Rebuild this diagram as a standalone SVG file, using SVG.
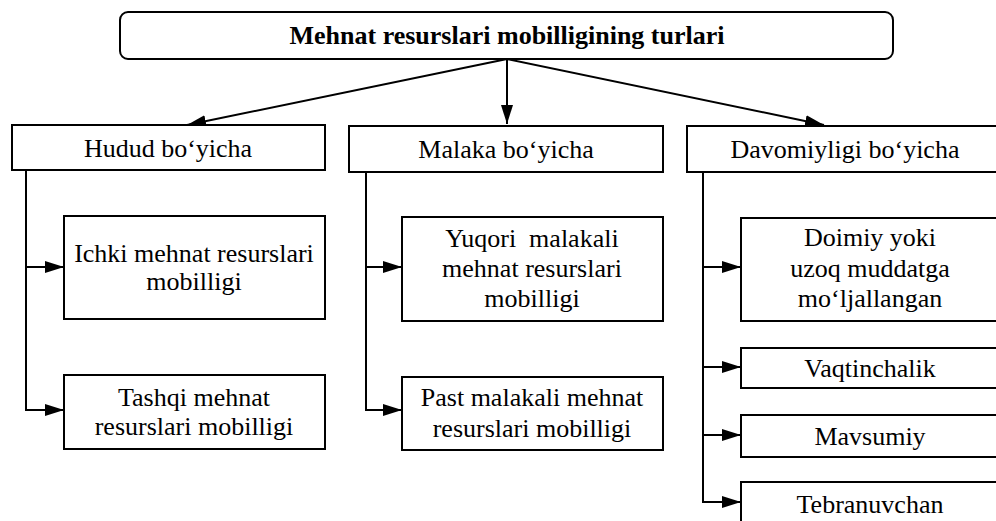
<svg xmlns="http://www.w3.org/2000/svg" width="996" height="521" viewBox="0 0 996 521">
<defs>
<marker id="ah" markerUnits="userSpaceOnUse" markerWidth="20" markerHeight="12" refX="19" refY="6" orient="auto">
<path d="M0,0 L19,6 L0,12 z" fill="#000"/>
</marker>
<style>
.box{fill:#fff;stroke:#000;stroke-width:2}
.t{font-family:'Liberation Serif','Times New Roman','DejaVu Serif',serif;font-size:26px;fill:#000;text-anchor:middle}
.b{font-weight:bold}
.c{fill:none;stroke:#000;stroke-width:2}
</style>
</defs>
<rect width="996" height="521" fill="#fff"/>
<g id="connectors">
<path class="c" d="M507,59 L187,125" marker-end="url(#ah)"/>
<path class="c" d="M507,59 L507,124" marker-end="url(#ah)"/>
<path class="c" d="M507,59 L824,125" marker-end="url(#ah)"/>
<path class="c" d="M26,170 L26,410"/>
<path class="c" d="M26,267 L64,267" marker-end="url(#ah)"/>
<path class="c" d="M25,410 L64,410" marker-end="url(#ah)"/>
<path class="c" d="M366,172 L366,410"/>
<path class="c" d="M366,267 L402,267" marker-end="url(#ah)"/>
<path class="c" d="M365,410 L402,410" marker-end="url(#ah)"/>
<path class="c" d="M703,172 L703,502"/>
<path class="c" d="M703,267 L741,267" marker-end="url(#ah)"/>
<path class="c" d="M703,367 L741,367" marker-end="url(#ah)"/>
<path class="c" d="M703,435 L741,435" marker-end="url(#ah)"/>
<path class="c" d="M702,502 L741,502" marker-end="url(#ah)"/>
</g>
<g id="root">
<rect class="box" x="120" y="12" width="773" height="47" rx="8"/>
<text class="t b" font-family="Liberation Serif, serif" x="507" y="44">Mehnat resurslari mobilligining turlari</text>
</g>
<g id="hudud">
<rect class="box" x="12" y="125" width="313" height="45"/>
<text class="t" font-family="Liberation Serif, serif" x="168" y="157">Hudud bo‘yicha</text>
</g>
<g id="malaka">
<rect class="box" x="349" y="126" width="314" height="46"/>
<text class="t" font-family="Liberation Serif, serif" x="506" y="158">Malaka bo‘yicha</text>
</g>
<g id="davomiyligi">
<rect class="box" x="687" y="126" width="330" height="46"/>
<text class="t" font-family="Liberation Serif, serif" x="845" y="158">Davomiyligi bo‘yicha</text>
</g>
<g id="ichki">
<rect class="box" x="64" y="216" width="261" height="103"/>
<text class="t" font-family="Liberation Serif, serif" x="194" y="262">Ichki mehnat resurslari</text>
<text class="t" font-family="Liberation Serif, serif" x="194" y="290">mobilligi</text>
</g>
<g id="tashqi">
<rect class="box" x="64" y="375" width="261" height="74"/>
<text class="t" font-family="Liberation Serif, serif" x="194" y="406">Tashqi mehnat</text>
<text class="t" font-family="Liberation Serif, serif" x="194" y="435">resurslari mobilligi</text>
</g>
<g id="yuqori">
<rect class="box" x="402" y="217" width="261" height="104"/>
<text class="t" font-family="Liberation Serif, serif" x="532" y="247" xml:space="preserve">Yuqori  malakali</text>
<text class="t" font-family="Liberation Serif, serif" x="532" y="277">mehnat resurslari</text>
<text class="t" font-family="Liberation Serif, serif" x="532" y="307">mobilligi</text>
</g>
<g id="past">
<rect class="box" x="402" y="377" width="261" height="73"/>
<text class="t" font-family="Liberation Serif, serif" x="532" y="406">Past malakali mehnat</text>
<text class="t" font-family="Liberation Serif, serif" x="532" y="437">resurslari mobilligi</text>
</g>
<g id="doimiy">
<rect class="box" x="741" y="218" width="270" height="103"/>
<text class="t" font-family="Liberation Serif, serif" x="870" y="246">Doimiy yoki</text>
<text class="t" font-family="Liberation Serif, serif" x="870" y="277">uzoq muddatga</text>
<text class="t" font-family="Liberation Serif, serif" x="870" y="307">mo‘ljallangan</text>
</g>
<g id="vaqtinchalik">
<rect class="box" x="741" y="348" width="270" height="40"/>
<text class="t" font-family="Liberation Serif, serif" x="870" y="377">Vaqtinchalik</text>
</g>
<g id="mavsumiy">
<rect class="box" x="741" y="415" width="270" height="42"/>
<text class="t" font-family="Liberation Serif, serif" x="870" y="445">Mavsumiy</text>
</g>
<g id="tebranuvchan">
<rect class="box" x="741" y="482" width="270" height="60"/>
<text class="t" font-family="Liberation Serif, serif" x="870" y="513">Tebranuvchan</text>
</g>
</svg>
